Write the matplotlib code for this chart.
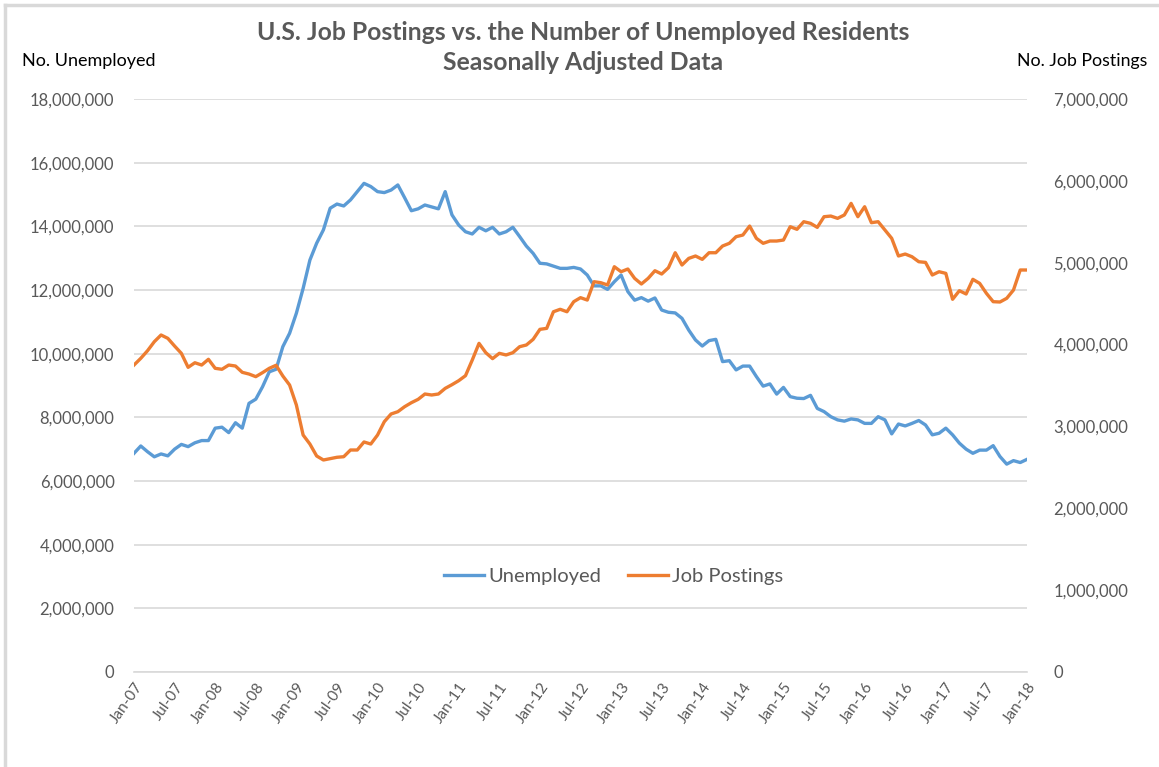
import matplotlib
matplotlib.use("Agg")
import matplotlib.pyplot as plt
from matplotlib.lines import Line2D
from matplotlib.ticker import FuncFormatter, MultipleLocator
import pandas as pd

plt.rcParams['font.family'] = ['Lato', 'DejaVu Sans']

# ---- data ----
months = pd.date_range("2007-01-01", "2018-01-01", freq="MS")

unemployed_m = [
    6.87, 7.10, 6.92, 6.76, 6.85, 6.79, 7.00, 7.15, 7.08, 7.20, 7.27, 7.27,
    7.66, 7.69, 7.52, 7.83, 7.66, 8.44, 8.57, 8.96, 9.43, 9.51, 10.22, 10.64,
    11.27, 12.05, 12.94, 13.47, 13.89, 14.57, 14.70, 14.64, 14.83, 15.09, 15.35, 15.25,
    15.09, 15.06, 15.14, 15.30, 14.90, 14.49, 14.55, 14.67, 14.61, 14.55, 15.09, 14.36,
    14.04, 13.83, 13.76, 13.97, 13.86, 13.97, 13.76, 13.83, 13.97, 13.68, 13.38, 13.15,
    12.84, 12.82, 12.75, 12.68, 12.68, 12.71, 12.66, 12.47, 12.13, 12.13, 12.02, 12.26,
    12.47, 11.95, 11.68, 11.76, 11.65, 11.75, 11.37, 11.30, 11.28, 11.11, 10.74, 10.43,
    10.24, 10.41, 10.45, 9.75, 9.78, 9.49, 9.61, 9.61, 9.28, 8.98, 9.05, 8.73,
    8.94, 8.65, 8.60, 8.59, 8.69, 8.28, 8.18, 8.02, 7.92, 7.88, 7.95, 7.92,
    7.81, 7.81, 8.02, 7.92, 7.48, 7.79, 7.73, 7.81, 7.90, 7.76, 7.45, 7.50,
    7.66, 7.45, 7.19, 7.00, 6.87, 6.97, 6.97, 7.11, 6.77, 6.53, 6.64, 6.58, 6.68,
]

job_postings_m = [
    3.750, 3.832, 3.925, 4.035, 4.117, 4.076, 3.982, 3.893, 3.722, 3.778, 3.750, 3.820,
    3.710, 3.698, 3.750, 3.738, 3.661, 3.640, 3.608, 3.657, 3.710, 3.747, 3.616, 3.506,
    3.262, 2.895, 2.785, 2.639, 2.590, 2.606, 2.623, 2.630, 2.712, 2.712, 2.810, 2.785,
    2.895, 3.058, 3.152, 3.180, 3.241, 3.290, 3.331, 3.396, 3.384, 3.396, 3.465, 3.510,
    3.559, 3.620, 3.811, 4.015, 3.901, 3.828, 3.893, 3.873, 3.901, 3.974, 3.995, 4.064,
    4.186, 4.198, 4.401, 4.431, 4.401, 4.524, 4.573, 4.544, 4.768, 4.756, 4.728, 4.951,
    4.890, 4.923, 4.809, 4.740, 4.809, 4.902, 4.862, 4.939, 5.122, 4.972, 5.053, 5.082,
    5.041, 5.122, 5.122, 5.204, 5.237, 5.318, 5.338, 5.448, 5.298, 5.237, 5.265, 5.265,
    5.277, 5.440, 5.408, 5.501, 5.481, 5.432, 5.562, 5.570, 5.542, 5.583, 5.725, 5.562,
    5.684, 5.489, 5.501, 5.399, 5.298, 5.082, 5.106, 5.073, 5.012, 5.004, 4.850, 4.890,
    4.870, 4.553, 4.658, 4.618, 4.797, 4.748, 4.626, 4.524, 4.520, 4.565, 4.666, 4.911, 4.911,
]

tick_labels = ["Jan-07", "Jul-07", "Jan-08", "Jul-08", "Jan-09", "Jul-09", "Jan-10",
               "Jul-10", "Jan-11", "Jul-11", "Jan-12", "Jul-12", "Jan-13", "Jul-13",
               "Jan-14", "Jul-14", "Jan-15", "Jul-15", "Jan-16", "Jul-16", "Jan-17",
               "Jul-17", "Jan-18"]

unemployed = [v * 1e6 for v in unemployed_m]
job_postings = [v * 1e6 for v in job_postings_m]
x = list(range(len(months)))

# ---- style ----
BLUE = "#5B9BD5"
ORANGE = "#ED7D31"
TXT = "#595959"
GRID = "#D9D9D9"

W, H = 1159, 767
fig = plt.figure(figsize=(W / 100, H / 100), dpi=100)
fig.patch.set_facecolor("white")

L, R, T, B = 134, 1027, 99, 672
ax = fig.add_axes([L / W, (H - B) / H, (R - L) / W, (B - T) / H])
ax2 = ax.twinx()

ax.plot(x, unemployed, color=BLUE, lw=2.4, solid_joinstyle="round", zorder=3)
ax2.plot(x, job_postings, color=ORANGE, lw=2.4, solid_joinstyle="round", zorder=3)

ax.set_xlim(0, len(x) - 1)
ax.set_ylim(0, 18e6)
ax2.set_ylim(0, 7e6)
ax.yaxis.set_major_locator(MultipleLocator(2e6))
ax2.yaxis.set_major_locator(MultipleLocator(1e6))
fmt = FuncFormatter(lambda v, p: f"{int(round(v)):,}")
ax.yaxis.set_major_formatter(fmt)
ax2.yaxis.set_major_formatter(fmt)

ax.grid(axis="y", color=GRID, lw=1.2)
ax.set_axisbelow(True)
for a in (ax, ax2):
    for s in a.spines.values():
        s.set_visible(False)
ax.spines["bottom"].set_visible(True)
ax.spines["bottom"].set_color(GRID)
ax.spines["bottom"].set_linewidth(1.2)

ax.set_xticks(list(range(0, len(x), 6)))
ax.set_xticklabels(tick_labels, rotation=55, ha="right", va="top",
                   rotation_mode="anchor", fontsize=11, color=TXT)
ax.tick_params(axis="x", length=0, pad=6)
ax.tick_params(axis="y", length=0, pad=14, labelsize=12, labelcolor=TXT)
ax2.tick_params(axis="y", length=0, pad=19, labelsize=12, labelcolor=TXT)

handles = [Line2D([], [], color=BLUE, lw=2.4), Line2D([], [], color=ORANGE, lw=2.4)]
ax.legend(handles, ["Unemployed", "Job Postings"], loc="center",
          bbox_to_anchor=(0.537, 0.166), ncol=2, frameon=False, fontsize=14.5,
          labelcolor=TXT, handlelength=2.0, handletextpad=0.2, columnspacing=1.3)

fig.text(583 / W, 1 - 33 / H, "U.S. Job Postings vs. the Number of Unemployed Residents",
         ha="center", va="center", fontsize=17.8, fontweight="bold", color=TXT)
fig.text(583 / W, 1 - 63 / H, "Seasonally Adjusted Data",
         ha="center", va="center", fontsize=17.8, fontweight="bold", color=TXT)
fig.text(22 / W, 1 - 61 / H, "No. Unemployed", ha="left", va="center",
         fontsize=13, color="black")
fig.text(1147 / W, 1 - 61 / H, "No. Job Postings", ha="right", va="center",
         fontsize=12.8, color="black")

# chart border (light gray)
fig.add_artist(Line2D([5 / W, 5 / W], [0, 1 - 5 / H], color=GRID, lw=2.5,
                      transform=fig.transFigure))
fig.add_artist(Line2D([5 / W, 1], [1 - 5 / H, 1 - 5 / H], color=GRID, lw=2.5,
                      transform=fig.transFigure))

fig.savefig("out.png", dpi=100, facecolor="white")
